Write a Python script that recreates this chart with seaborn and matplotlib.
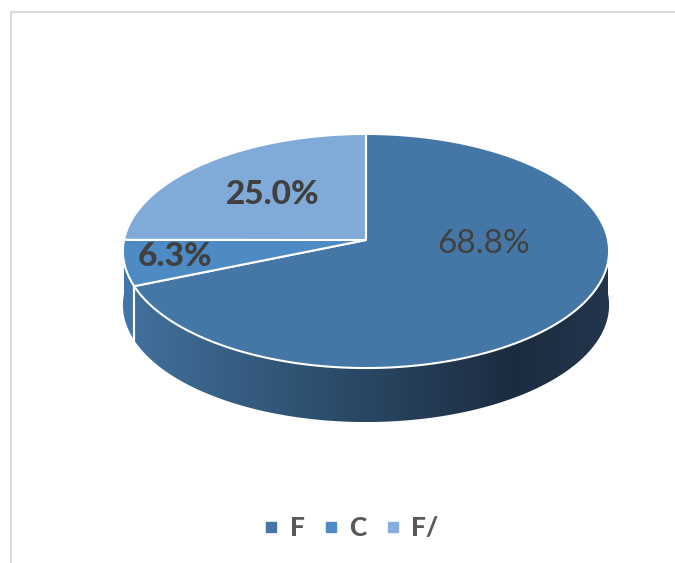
import numpy as np
import matplotlib
matplotlib.use("Agg")
import matplotlib.pyplot as plt
import seaborn as sns
from matplotlib.patches import Polygon
from matplotlib.colors import LinearSegmentedColormap
from matplotlib.font_manager import FontProperties

categories = ["F", "C", "F/"]
values = [68.8, 6.3, 25.0]
labels = ["68.8%", "6.3%", "25.0%"]
top_colors = ["#4577A6", "#4E8BC5", "#80AAD8"]
side_colors = ["#3E6A94", "#4376A8", "#6F9BC8"]
legend_colors = ["#4375A6", "#4F8CC7", "#85AEDD"]
label_bold = [False, True, True]

sns.set_theme(style="white")
plt.rcParams['font.family'] = ['Lato', 'DejaVu Sans']

W, H = 675, 563
fig = plt.figure(figsize=(W / 100, H / 100), dpi=100)
ax = fig.add_axes([0, 0, 1, 1])
ax.set_xlim(0, W)
ax.set_ylim(H, 0)
ax.axis("off")

# frame lines (top and left only)
ax.plot([10.5, W], [12, 12], color="#D9D9D9", lw=1.5, zorder=0)
ax.plot([10.5, 10.5], [12, H], color="#D9D9D9", lw=1.5, zorder=0)

# projective pie geometry
cx, cy = 366.0, 240.0
k = 0.094
A = 242.0
B = 116.0
depth = 54.0


def proj(theta_deg, dy=0.0):
    t = np.deg2rad(theta_deg)
    u, v = np.cos(t), np.sin(t)
    s = 1 + k * v
    return cx + A * u / s, cy - B * v / s + dy


total = sum(values)
bounds = []
start = 90.0
for v in values:
    span = 360.0 * v / total
    bounds.append((start - span, start))
    start -= span

# side faces (front half visible: 180..360)
grad_cmap = LinearSegmentedColormap.from_list(
    "side", [(0.0, "#41709C"), (0.35, "#2F5272"), (0.8, "#1C2C40"), (1.0, "#22364C")])
for i, (a0, a1) in enumerate(bounds):
    segs = []
    for off in (-360, 0, 360):
        lo, hi = max(a0 + off, 180), min(a1 + off, 360)
        if hi > lo:
            segs.append((lo, hi))
    for lo, hi in segs:
        th = np.linspace(lo, hi, 200)
        xt, yt = proj(th)
        xb, yb = proj(th, depth)
        pts = np.column_stack([np.r_[xt, xb[::-1]], np.r_[yt, yb[::-1]]])
        if i == 0:
            poly = Polygon(pts, closed=True, facecolor="none", edgecolor="none", zorder=2)
            ax.add_patch(poly)
            grad = np.linspace(0, 1, 256)[None, :]
            im = ax.imshow(grad, cmap=grad_cmap, aspect="auto",
                           extent=[xt.min(), xt.max(), yb.max(), yt.min()], zorder=2)
            im.set_clip_path(poly)
        else:
            ax.add_patch(Polygon(pts, closed=True, facecolor=side_colors[i],
                                 edgecolor="none", zorder=2))
        for edge in (lo, hi):
            if 180 < edge < 360:
                x0, y0 = proj(edge)
                x1, y1 = proj(edge, depth)
                ax.plot([x0, x1], [y0, y1], color="white", lw=1.5, zorder=3)

# top faces
for i, (a0, a1) in enumerate(bounds):
    th = np.linspace(a0, a1, 300)
    xa, ya = proj(th)
    pts = np.column_stack([np.r_[cx, xa], np.r_[cy, ya]])
    ax.add_patch(Polygon(pts, closed=True, facecolor=top_colors[i],
                         edgecolor="white", lw=1.5, joinstyle="round", zorder=4))

# labels
label_pos = [(484, 244), (175, 257), (273, 194)]
for i, lab in enumerate(labels):
    ax.text(label_pos[i][0], label_pos[i][1], lab, ha="center", va="center",
            fontsize=24, color="#404040", family=['Lato', 'DejaVu Sans'],
            fontweight=900 if label_bold[i] else "normal", zorder=5)

# legend
handles = [plt.Line2D([], [], marker="s", linestyle="none", markersize=7.5,
                      markerfacecolor=c, markeredgecolor=c) for c in legend_colors]
leg_font = FontProperties(family=['Lato', 'DejaVu Sans'], weight=900, size=19)
leg = ax.legend(handles, categories, loc="center", bbox_to_anchor=(349 / W, 1 - 528 / H),
                ncol=3, frameon=False, handletextpad=0.25, columnspacing=0.55,
                handlelength=0.9, prop=leg_font)
for t in leg.get_texts():
    t.set_color("#595959")

fig.savefig("out.png", dpi=100, facecolor="white")
